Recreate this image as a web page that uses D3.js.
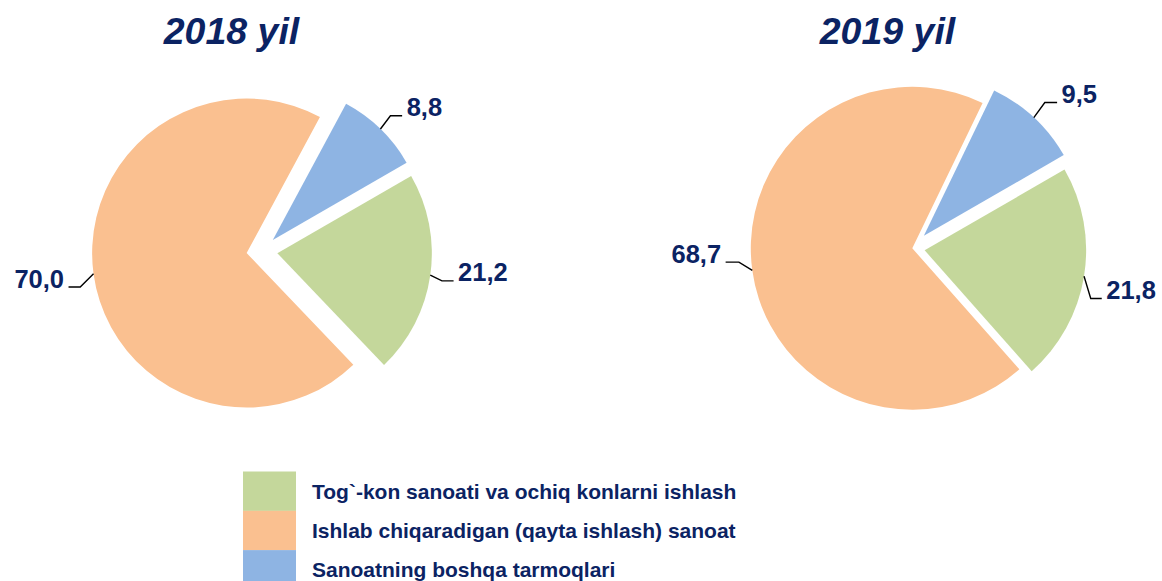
<!DOCTYPE html>
<html>
<head>
<meta charset="utf-8">
<script src="https://cdn.jsdelivr.net/npm/d3@7"></script>
<style>
  html, body { margin: 0; padding: 0; background: #fff; }
  svg { display: block; }
  text { font-family: "Liberation Sans", Arial, sans-serif; font-weight: bold; }
</style>
</head>
<body>
<svg id="chart" width="1162" height="581"></svg>
<script>
// ---- data ----
const categories = [
  "Tog`-kon sanoati va ochiq konlarni ishlash",
  "Ishlab chiqaradigan (qayta ishlash) sanoat",
  "Sanoatning boshqa tarmoqlari"
];
const years = ["2018 yil", "2019 yil"];
const values2018 = [21.2, 70.0, 8.8];
const values2019 = [21.8, 68.7, 9.5];
const seriesValues = [values2018, values2019];

// ---- style / layout ----
const colors = ["#C4D79B", "#FAC090", "#8EB4E3"];
const textColor = "#0B2363";
const layout = [
  { cx: 262, cy: 251, r: 154.5, titleX: 231.5, explode: [15.5, 15.5, 15.5],
    elbow: [[11.7, 5.7], [-13.3, 13.3], [10, -13.3]], hLen: [11.6, 11.7, 11.7] },
  { cx: 912.3, cy: 248.3, r: 161.5, titleX: 887.5, explode: [12.5, 0, 17],
    elbow: [[6.7, 22.3], [-13.4, -8.3], [11, -15]], hLen: [11, 13.3, 12.3] }
];

const svg = d3.select("#chart");
const fmt = v => d3.format(".1f")(v).replace(".", ",");
const start = 60 * Math.PI / 180;
const pie = d3.pie().sort(null).startAngle(start).endAngle(start + 2 * Math.PI);

seriesValues.forEach((vals, i) => {
  const L = layout[i];
  const arc = d3.arc().innerRadius(0).outerRadius(L.r);
  const g = svg.append("g").attr("transform", `translate(${L.cx},${L.cy})`);
  const arcs = pie(vals);

  arcs.forEach((d, j) => {
    const mid = (d.startAngle + d.endAngle) / 2;
    const e = L.explode[j];
    const ox = e * Math.sin(mid), oy = -e * Math.cos(mid);
    g.append("path")
      .attr("d", arc(d))
      .attr("transform", `translate(${ox},${oy})`)
      .attr("fill", colors[j]);

    // leader line
    const sx = ox + L.r * Math.sin(mid), sy = oy - L.r * Math.cos(mid);
    const ex = sx + L.elbow[j][0], ey = sy + L.elbow[j][1];
    const side = Math.sin(mid) >= 0 ? 1 : -1;
    const hx = ex + side * L.hLen[j];
    g.append("polyline")
      .attr("points", `${sx},${sy} ${ex},${ey} ${hx},${ey}`)
      .attr("fill", "none").attr("stroke", "#000").attr("stroke-width", 1.4);
    g.append("text")
      .attr("x", hx + side * 4.5).attr("y", ey + 0.5)
      .attr("text-anchor", side > 0 ? "start" : "end")
      .attr("font-size", 25.5).attr("fill", textColor)
      .text(fmt(vals[j]));
  });

  svg.append("text")
    .attr("x", L.titleX).attr("y", 43.5)
    .attr("text-anchor", "middle")
    .attr("font-size", 37.5).attr("font-style", "italic")
    .attr("fill", textColor)
    .text(years[i]);
});

// ---- legend ----
const legend = svg.append("g");
categories.forEach((c, j) => {
  const y0 = 471.5 + j * 39.3;
  legend.append("rect")
    .attr("x", 243).attr("y", y0).attr("width", 53).attr("height", 39.4)
    .attr("fill", colors[j]);
  legend.append("text")
    .attr("x", 312).attr("y", y0 + 27)
    .attr("font-size", 21).attr("fill", textColor)
    .text(c);
});
</script>
</body>
</html>
